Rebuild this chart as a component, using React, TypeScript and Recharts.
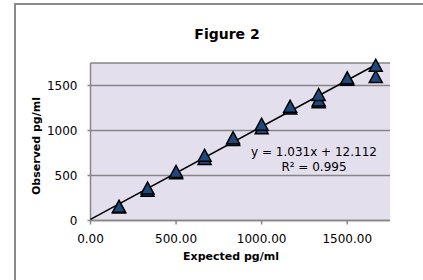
import { ScatterChart, Scatter, XAxis, YAxis, CartesianGrid } from 'recharts';

// expected concentrations (pg/ml), one entry per replicate
const expected = [
  166.67, 166.67, 333.33, 333.33, 500, 500, 666.67, 666.67, 833.33, 833.33,
  1000, 1000, 1166.67, 1166.67, 1333.33, 1333.33, 1333.33, 1500, 1500, 1666.67, 1666.67,
];
// observed concentrations (pg/ml)
const observed = [
  150, 158, 335, 360, 530, 545, 690, 725, 900, 920,
  1030, 1070, 1250, 1270, 1320, 1340, 1400, 1570, 1585, 1600, 1725,
];
// trendline end points, y = 1.031x + 12.112
const trendX = [0, 1666.67];
const trendY = [12.1, 1730.5];

const xTicks = [0, 500, 1000, 1500];
const yTicks = [0, 500, 1000, 1500];

const points = expected.map((x, i) => ({ x, y: observed[i] }));
const trend = trendX.map((x, i) => ({ x, y: trendY[i] }));

const FONT = '"DejaVu Sans", Arial, sans-serif';
const AXIS = '#868686';

function Triangle(props: any) {
  const { cx, cy } = props;
  if (cx == null || cy == null) return null;
  const w = 6.5;
  const h = 6;
  return (
    <polygon
      points={`${cx},${cy - h} ${cx - w},${cy + h} ${cx + w},${cy + h}`}
      fill="#1F497D"
      stroke="#000"
      strokeWidth={1.5}
    />
  );
}

const NoDot = () => <g />;

export default function App() {
  return (
    <div style={{ position: 'absolute', left: 0, top: 0, width: 423, height: 280, overflow: 'hidden', background: '#fff', fontFamily: FONT, color: '#000' }}>
      {/* outer chart frame */}
      <div style={{ position: 'absolute', left: 14, top: 3, width: 420, height: 290, borderLeft: '2px solid #8a8a8a', borderTop: '2px solid #8a8a8a' }} />

      <ScatterChart width={423} height={280} margin={{ top: 63, right: 33, bottom: 0, left: 0 }} style={{ position: 'absolute', left: 0, top: 0 }}>
        <CartesianGrid vertical={false} fill="#E4DFEC" stroke={AXIS} strokeWidth={1.5} />
        <XAxis
          type="number"
          dataKey="x"
          domain={[0, 1750]}
          ticks={xTicks}
          tickFormatter={(v: number) => v.toFixed(2)}
          stroke={AXIS}
          strokeWidth={1.5}
          tickSize={4}
          tickMargin={10}
          height={59.5}
          tick={{ fill: '#000', fontSize: 12, fontFamily: FONT }}
        />
        <YAxis
          type="number"
          dataKey="y"
          domain={[0, 1750]}
          ticks={yTicks}
          stroke={AXIS}
          strokeWidth={1.5}
          tickSize={3}
          tickMargin={10}
          width={90.5}
          tick={{ fill: '#000', fontSize: 12, fontFamily: FONT }}
        />
        <Scatter data={trend} line={{ stroke: '#000', strokeWidth: 1.5 }} shape={NoDot} isAnimationActive={false} />
        <Scatter data={points} shape={Triangle} isAnimationActive={false} />
      </ScatterChart>

      <div style={{ position: 'absolute', left: 127, top: 25, width: 200, textAlign: 'center', fontSize: 14, lineHeight: '18px', fontWeight: 'bold' }}>
        Figure 2
      </div>

      <div style={{ position: 'absolute', left: -23, top: 138, width: 120, textAlign: 'center', fontSize: 11, lineHeight: '16px', fontWeight: 'bold', transform: 'rotate(-90deg)' }}>
        Observed pg/ml
      </div>

      <div style={{ position: 'absolute', left: 171, top: 249, width: 120, textAlign: 'center', fontSize: 11, lineHeight: '16px', fontWeight: 'bold' }}>
        Expected pg/ml
      </div>

      <div style={{ position: 'absolute', left: 244, top: 145, width: 140, textAlign: 'center', fontSize: 12, lineHeight: '15px' }}>
        y = 1.031x + 12.112
        <br />
        R² = 0.995
      </div>
    </div>
  );
}
